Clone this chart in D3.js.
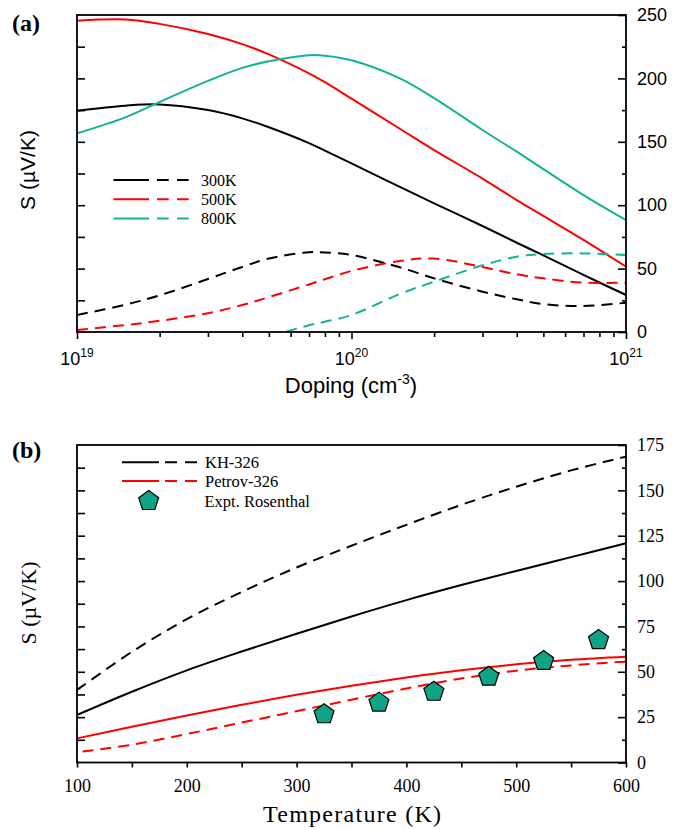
<!DOCTYPE html>
<meta charset="utf-8">
<style>
body { margin: 0; background: #fff; }
.sans { font-family: "Liberation Sans", Arial, sans-serif; }
.serif { font-family: "Liberation Serif", "Times New Roman", serif; }
.frame { fill: none; stroke: #000; stroke-width: 1.8px; }
.tick line { stroke: #000; stroke-width: 1.6px; }
.curve { fill: none; stroke-width: 2px; }
</style>
<svg width="693" height="829"></svg>
<script src="https://d3js.org/d3.v7.min.js"></script>
<script>

// panel (a): Seebeck vs doping
var doping = [1e19, 1.5e19, 2e19, 3e19, 4e19, 5e19, 7e19, 8e19, 1e20, 1.5e20, 2e20, 3e20, 4e20, 5e20, 7e20, 1e21];
var solid300 = [174.5, 178.5, 179.5, 175, 168.5, 161.5, 149, 143, 133, 114.4, 101.5, 83.6, 70.4, 60.5, 45, 29.2];
var solid500 = [245.5, 246.5, 243, 235, 227, 219, 204, 197, 184, 160.3, 143.5, 121, 104, 91.5, 72.6, 51.5];
var solid800 = [156.7, 169.3, 181.4, 198, 208.3, 213.5, 218.3, 217.9, 214.3, 200, 184.5, 159.3, 142.2, 128.5, 108, 88.3];
var dash300 = [13.4, 21.5, 28.9, 41.8, 51.3, 57.9, 62.9, 62.7, 60.7, 51, 42.3, 31.8, 25.8, 22, 20.5, 23.1];
var dash500 = [1.6, 5.5, 8.8, 14.8, 21.3, 27.5, 37.5, 41.6, 48.2, 56, 57.9, 51.2, 45.5, 42.3, 38.9, 38.9];
var dash800 = [null, null, null, null, null, -3.7, 5.3, 8.1, 13.4, 30, 39.7, 52.6, 59.4, 61.5, 62, 60.7];
var tempLabels = ["300K", "500K", "800K"];

// panel (b): Seebeck vs temperature
var temps = [100, 150, 200, 250, 300, 350, 400, 450, 500, 550, 600];
var khSolid = [26.2, 39, 50.8, 61.2, 71, 80.5, 89.5, 97.8, 105.6, 113.2, 120.8];
var khDash = [40, 61, 79, 94, 107.5, 119.5, 131, 142, 152, 161, 168.6];
var petSolid = [13.3, 19.7, 25.9, 31.8, 37.3, 42.3, 46.8, 50.8, 54.1, 56.6, 58.3];
var petDashT = [105, 150, 200, 250, 300, 350, 400, 450, 500, 550, 600];
var petDash = [6, 9.8, 15.7, 22, 28.3, 34.6, 40.8, 46.3, 50.6, 53.5, 55.6];
var exptT = [325, 375, 425, 475, 525, 575];
var exptS = [26.6, 33, 39, 47.3, 56, 67.5];
var seriesLabels = ["KH-326", "Petrov-326", "Expt. Rosenthal"];

var teal = "#13b396", tealFill = "#0fa385", dash = "11,7";

var svg = d3.select("svg");

var xa = d3.scaleLog().domain([1e19, 1e21]).range([77, 626]),
    ya = d3.scaleLinear().domain([0, 250]).range([332, 15]),
    xb = d3.scaleLinear().domain([100, 600]).range([77, 626]),
    yb = d3.scaleLinear().domain([0, 175]).range([762.5, 445]);

function pentagon(r) {
  var p = d3.path();
  for (var k = 0; k < 5; k++) {
    var a = -Math.PI / 2 + k * 2 * Math.PI / 5;
    if (k === 0) p.moveTo(r * Math.cos(a), r * Math.sin(a));
    else p.lineTo(r * Math.cos(a), r * Math.sin(a));
  }
  p.closePath();
  return p.toString();
}

function axisNoDomain(g) { g.select(".domain").remove(); }

// ---------- panel (a) ----------
var ga = svg.append("g");

svg.append("clipPath").attr("id", "clipa")
  .append("rect").attr("x", 77).attr("y", 15).attr("width", 549).attr("height", 317);

var lineA = function(vals) {
  return d3.line()
    .defined(function(d, i) { return vals[i] != null; })
    .x(function(d) { return xa(d); })
    .y(function(d, i) { return ya(vals[i]); })
    .curve(d3.curveCatmullRom.alpha(0.5))(doping);
};

var curvesA = [
  [solid300, "#000", null], [solid500, "#ff0000", null], [solid800, teal, null],
  [dash300, "#000", dash], [dash500, "#ff0000", dash], [dash800, teal, dash]
];
var cg = ga.append("g").attr("clip-path", "url(#clipa)");
curvesA.forEach(function(c) {
  cg.append("path").attr("class", "curve")
    .attr("d", lineA(c[0]))
    .attr("stroke", c[1])
    .attr("stroke-dasharray", c[2]);
});

// axes (a)
ga.append("g").attr("transform", "translate(77,0)")
  .call(d3.axisLeft(ya).tickValues(d3.range(25, 250, 25)).tickSize(-8).tickFormat(""))
  .call(axisNoDomain);
ga.append("g").attr("transform", "translate(626,0)")
  .call(d3.axisRight(ya).tickValues(d3.range(25, 250, 50)).tickSize(-4).tickFormat(""))
  .call(axisNoDomain);
ga.append("g").attr("transform", "translate(626,0)")
  .call(d3.axisRight(ya).tickValues(d3.range(0, 251, 50)).tickSize(-8).tickPadding(11))
  .call(axisNoDomain)
  .selectAll("text").attr("font-size", 18).attr("font-family", "Liberation Sans, Arial, sans-serif").attr("fill", "#000");

var minorA = [];
[1e19, 1e20].forEach(function(b) { for (var m = 2; m < 10; m++) minorA.push(m * b); });
ga.append("g").attr("transform", "translate(0,332)")
  .call(d3.axisBottom(xa).tickValues(minorA).tickSize(5).tickFormat(""))
  .call(axisNoDomain);
ga.append("g").attr("transform", "translate(0,332)")
  .call(d3.axisBottom(xa).tickValues([1e19, 1e20, 1e21]).tickSize(7).tickFormat(""))
  .call(axisNoDomain);

[19, 20, 21].forEach(function(e) {
  var t = ga.append("text").attr("class", "sans")
    .attr("x", xa(Math.pow(10, e))).attr("y", 365)
    .attr("text-anchor", "middle").attr("font-size", 18).text("10");
  t.append("tspan").attr("dy", -8).attr("font-size", 12).text(e);
});

ga.append("rect").attr("class", "frame").attr("x", 77).attr("y", 15).attr("width", 549).attr("height", 317);

var xl = ga.append("text").attr("class", "sans").attr("x", 351).attr("y", 393)
  .attr("text-anchor", "middle").attr("font-size", 22).text("Doping (cm");
xl.append("tspan").attr("dy", -9).attr("font-size", 14).text("-3");
xl.append("tspan").attr("dy", 9).text(")");

ga.append("text").attr("class", "sans")
  .attr("transform", "translate(35,170) rotate(-90)")
  .attr("text-anchor", "middle").attr("font-size", 21).text("S (\u00b5V/K)");

ga.append("text").attr("class", "serif").attr("x", 12).attr("y", 31)
  .attr("font-size", 24).attr("font-weight", "bold").text("(a)");

// legend (a)
var legColorsA = ["#000", "#ff0000", teal];
tempLabels.forEach(function(l, i) {
  var y = 180 + i * 19.2;
  ga.append("line").attr("x1", 113.5).attr("x2", 149).attr("y1", y).attr("y2", y)
    .attr("stroke", legColorsA[i]).attr("stroke-width", 2);
  ga.append("line").attr("x1", 157).attr("x2", 189).attr("y1", y).attr("y2", y)
    .attr("stroke", legColorsA[i]).attr("stroke-width", 2).attr("stroke-dasharray", "11.7,8.3");
  ga.append("text").attr("class", "serif").attr("x", 201).attr("y", y + 5.5)
    .attr("font-size", 16).text(l);
});

// ---------- panel (b) ----------
var gb = svg.append("g");

var lineB = function(xs, vals) {
  return d3.line()
    .x(function(d) { return xb(d); })
    .y(function(d, i) { return yb(vals[i]); })
    .curve(d3.curveCatmullRom.alpha(0.5))(xs);
};

gb.append("path").attr("class", "curve").attr("stroke", "#000").attr("d", lineB(temps, khSolid));
gb.append("path").attr("class", "curve").attr("stroke", "#000").attr("stroke-dasharray", dash).attr("d", lineB(temps, khDash));
gb.append("path").attr("class", "curve").attr("stroke", "#ff0000").attr("d", lineB(temps, petSolid));
gb.append("path").attr("class", "curve").attr("stroke", "#ff0000").attr("stroke-dasharray", dash).attr("d", lineB(petDashT, petDash));

gb.selectAll(".expt").data(exptT).enter().append("path")
  .attr("class", "expt")
  .attr("d", pentagon(10.5))
  .attr("transform", function(d, i) { return "translate(" + xb(d) + "," + yb(exptS[i]) + ")"; })
  .attr("fill", tealFill).attr("stroke", "#000").attr("stroke-width", 1.2);

// axes (b)
gb.append("g").attr("transform", "translate(77,0)")
  .call(d3.axisLeft(yb).tickValues(d3.range(12.5, 175, 12.5)).tickSize(-8).tickFormat(""))
  .call(axisNoDomain);
gb.append("g").attr("transform", "translate(626,0)")
  .call(d3.axisRight(yb).tickValues(d3.range(12.5, 175, 25)).tickSize(-4).tickFormat(""))
  .call(axisNoDomain);
gb.append("g").attr("transform", "translate(626,0)")
  .call(d3.axisRight(yb).tickValues(d3.range(0, 176, 25)).tickSize(-8).tickPadding(11))
  .call(axisNoDomain)
  .selectAll("text").attr("font-size", 18).attr("font-family", "Liberation Serif, Times New Roman, serif").attr("fill", "#000");
gb.append("g").attr("transform", "translate(0,762.5)")
  .call(d3.axisBottom(xb).tickValues(d3.range(150, 600, 100)).tickSize(5).tickFormat(""))
  .call(axisNoDomain);
gb.append("g").attr("transform", "translate(0,762.5)")
  .call(d3.axisBottom(xb).tickValues(d3.range(100, 601, 100)).tickSize(5).tickPadding(12))
  .call(axisNoDomain)
  .selectAll("text").attr("font-size", 18).attr("font-family", "Liberation Serif, Times New Roman, serif").attr("fill", "#000");

gb.append("rect").attr("class", "frame").attr("x", 77).attr("y", 445).attr("width", 549).attr("height", 317.5);

gb.append("text").attr("class", "serif").attr("x", 352).attr("y", 822)
  .attr("text-anchor", "middle").attr("font-size", 24)
  .attr("textLength", 178).attr("lengthAdjust", "spacing").text("Temperature (K)");

gb.append("text").attr("class", "serif")
  .attr("transform", "translate(36,603) rotate(-90)")
  .attr("text-anchor", "middle").attr("font-size", 22).text("S (\u00b5V/K)");

gb.append("text").attr("class", "serif").attr("x", 12).attr("y", 458)
  .attr("font-size", 24).attr("font-weight", "bold").text("(b)");

// legend (b)
[["#000", 462.3], ["#ff0000", 481]].forEach(function(c, i) {
  gb.append("line").attr("x1", 122).attr("x2", 159).attr("y1", c[1]).attr("y2", c[1])
    .attr("stroke", c[0]).attr("stroke-width", 2);
  gb.append("line").attr("x1", 165).attr("x2", 198).attr("y1", c[1]).attr("y2", c[1])
    .attr("stroke", c[0]).attr("stroke-width", 2).attr("stroke-dasharray", "12,8");
  gb.append("text").attr("class", "serif").attr("x", 205).attr("y", c[1] + 5.5)
    .attr("font-size", 16.5).text(seriesLabels[i]);
});
gb.append("path").attr("d", pentagon(10.5)).attr("transform", "translate(148.7,501)")
  .attr("fill", tealFill).attr("stroke", "#000").attr("stroke-width", 1.2);
gb.append("text").attr("class", "serif").attr("x", 204.5).attr("y", 506.5)
  .attr("font-size", 16.5).text(seriesLabels[2]);

</script>
